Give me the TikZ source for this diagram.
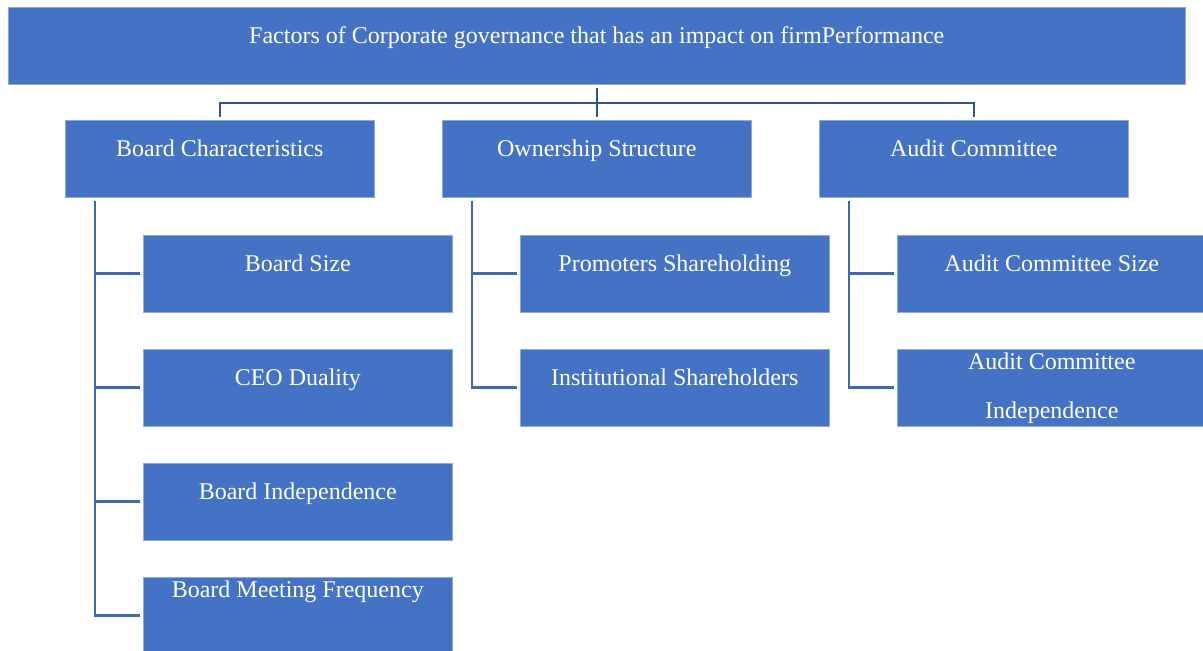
\documentclass[tikz,border=0pt]{standalone}
\usepackage{fontspec}
\setmainfont{Liberation Serif}
\usepackage{xcolor}
\usepackage{tikz}

\definecolor{boxblue}{HTML}{4472C4}
\definecolor{lineblue}{HTML}{2F5597}
\definecolor{edgeblue}{HTML}{8FAADC}

\tikzset{
  box/.style={rectangle, fill=boxblue, draw=edgeblue, line width=0.4pt,
    text=white, inner sep=0pt, anchor=north west,
    minimum width=231.75pt, minimum height=57.75pt,
    font=\fontsize{18}{22}\selectfont, text height=12pt, text depth=16pt},
  trunk/.style={draw=lineblue, line width=1.5pt, shorten <=2.25pt, shorten >=2.25pt},
  branch/.style={draw=boxblue!92!black, line width=2pt, shorten <=2.25pt, shorten >=2.25pt},
}

\begin{document}
\begin{tikzpicture}[x=0.75pt, y=-0.75pt]
  \useasboundingbox (0,0) rectangle (1203,650);
  \clip (0,0) rectangle (1203,650);

  % top box
  \node[box, minimum width=882.75pt] (top) at (8,7) {Factors of Corporate governance that has an impact on firmPerformance};

  % three groups
  \node[box] (board) at (65,120) {Board Characteristics};
  \node[box] (own) at (442,120) {Ownership Structure};
  \node[box] (audit) at (819,120) {Audit Committee};

  % board characteristics
  \node[box] (bsize) at (143,235) {Board Size};
  \node[box] (ceo) at (143,349) {CEO Duality};
  \node[box] (bind) at (143,463) {Board Independence};
  \node[box, text depth=39.75pt] (bmeet) at (143,577) {Board Meeting Frequency};

  % ownership structure
  \node[box] (promo) at (520,235) {Promoters Shareholding};
  \node[box] (inst) at (520,349) {Institutional Shareholders};

  % audit committee
  \node[box] (asize) at (897,235) {Audit Committee Size};
  \node[box, text height={}, text depth={}, align=center] (aind) at (897,349) {Audit Committee\\[14.75pt]Independence};

  % top level lines
  \draw[trunk] (top.south) -- (own.north);
  \draw[trunk] (top.south) -- +(0,18) -| (board.north);
  \draw[trunk] (top.south) -- +(0,18) -| (audit.north);

  % lines to the sub boxes
  \foreach \c in {bsize, ceo, bind, bmeet}
    \draw[branch] ([xshift=22.5pt]board.south west) |- (\c.west);
  \foreach \c in {promo, inst}
    \draw[branch] ([xshift=22.5pt]own.south west) |- (\c.west);
  \foreach \c in {asize, aind}
    \draw[branch] ([xshift=22.5pt]audit.south west) |- (\c.west);
\end{tikzpicture}
\end{document}
